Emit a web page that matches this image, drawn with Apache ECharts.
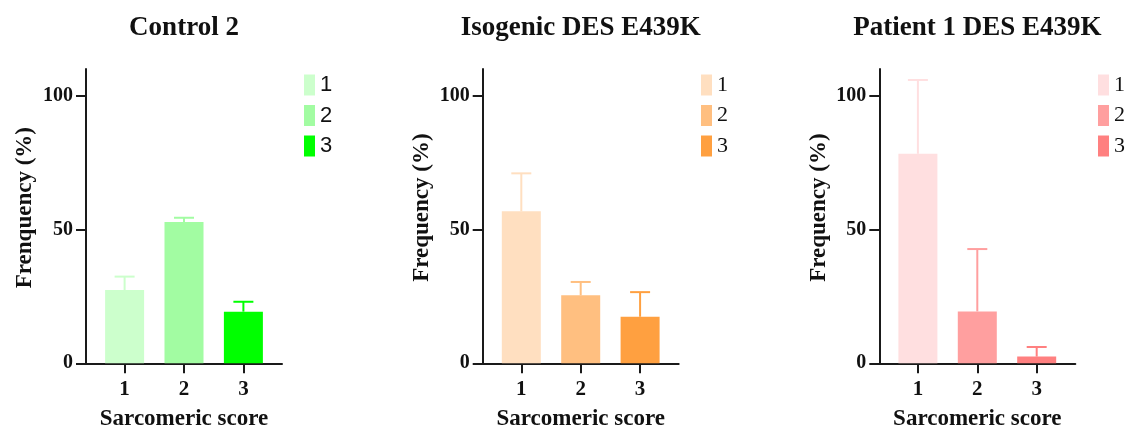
<!DOCTYPE html>
<html>
<head>
<meta charset="utf-8">
<script src="https://cdn.jsdelivr.net/npm/echarts@6/dist/echarts.min.js"></script>
<style>html,body{margin:0;padding:0;background:#fff;}#chart{width:1132px;height:430px;}</style>
</head>
<body>
<div id="chart"></div>
<script>
// ---- data ----
const scores = [1, 2, 3];
const scoreLabels = ['1', '2', '3'];
const yTicks = [0, 50, 100];
const panelTitles = ['Control 2', 'Isogenic DES E439K', 'Patient 1 DES E439K'];
const yAxisNames = ['Frenquency (%)', 'Frequency (%)', 'Frequency (%)'];
const xAxisName = 'Sarcomeric score';

const control2Mean = [27.4, 52.8, 19.3];
const control2Err = [5.0, 1.6, 3.7];
const isogenicMean = [56.8, 25.4, 17.4];
const isogenicErr = [14.2, 5.0, 9.2];
const patientMean = [78.3, 19.4, 2.5];
const patientErr = [27.6, 23.3, 3.6];

const control2Colors = ['#ccffcc', '#a2fca2', '#00ff00'];
const isogenicColors = ['#ffdfc0', '#ffbf80', '#ffa040'];
const patientColors = ['#ffdfe0', '#ff9f9f', '#ff8080'];

// ---- layout ----
const panels = [
  { key: 'A', mean: control2Mean, err: control2Err, colors: control2Colors, left: 86, legendLeft: 304, legendFont: 'Liberation Sans' },
  { key: 'B', mean: isogenicMean, err: isogenicErr, colors: isogenicColors, left: 482.7, legendLeft: 701, legendFont: 'Liberation Serif' },
  { key: 'C', mean: patientMean, err: patientErr, colors: patientColors, left: 879.3, legendLeft: 1098, legendFont: 'Liberation Serif' }
];
const GRID_W = 196;
const GRID_TOP = 69;
const GRID_H = 294.3;
const SERIF = 'Liberation Serif';
const AXIS_COLOR = '#1a1a1a';

const option = {
  animation: false,
  backgroundColor: '#fff',
  title: [], grid: [], xAxis: [], yAxis: [], legend: [], series: []
};

panels.forEach((p, i) => {
  option.title.push({
    text: panelTitles[i],
    left: p.left + GRID_W / 2,
    top: 15,
    padding: 0,
    textAlign: 'center',
    textStyle: { fontFamily: SERIF, fontWeight: 'bold', fontSize: 27, color: '#111' }
  });
  option.grid.push({ left: p.left, top: GRID_TOP, width: GRID_W, height: GRID_H, containLabel: false, outerBoundsMode: 'none' });
  option.xAxis.push({
    gridIndex: i,
    type: 'value',
    min: 0.35,
    max: 3.65,
    name: xAxisName,
    nameLocation: 'middle',
    nameGap: 44,
    nameTextStyle: { fontFamily: SERIF, fontWeight: 'bold', fontSize: 23, color: '#111' },
    splitLine: { show: false },
    axisLine: { show: true, onZero: false, lineStyle: { color: AXIS_COLOR, width: 2 } },
    axisTick: { show: true, length: 10, lineStyle: { color: AXIS_COLOR, width: 2 }, customValues: scores },
    axisLabel: {
      customValues: scores,
      formatter: v => scoreLabels[scores.indexOf(v)],
      margin: 16,
      fontFamily: SERIF, fontWeight: 'bold', fontSize: 21, color: '#111'
    }
  });
  option.yAxis.push({
    gridIndex: i,
    type: 'value',
    min: 0,
    max: 110,
    name: yAxisNames[i],
    nameLocation: 'middle',
    nameGap: 49,
    nameTextStyle: { fontFamily: SERIF, fontWeight: 'bold', fontSize: 23, color: '#111', padding: [0, 0, 0, 17] },
    splitLine: { show: false },
    axisLine: { show: true, lineStyle: { color: AXIS_COLOR, width: 2 } },
    axisTick: { show: true, length: 10, lineStyle: { color: AXIS_COLOR, width: 2 }, customValues: yTicks },
    axisLabel: {
      customValues: yTicks,
      margin: 13,
      fontFamily: SERIF, fontWeight: 'bold', fontSize: 20, color: '#111'
    }
  });
  const names = scores.map(s => p.key + '-' + s);
  option.legend.push({
    data: names,
    orient: 'vertical',
    left: p.legendLeft,
    top: 74,
    padding: 0,
    icon: 'rect',
    itemWidth: 11,
    itemHeight: 21,
    itemGap: 8.5,
    formatter: n => n.slice(n.indexOf('-') + 1),
    textStyle: { fontFamily: p.legendFont, fontSize: 22, color: '#111', lineHeight: 21 },
    selectedMode: false
  });
  scores.forEach((s, j) => {
    option.series.push({
      name: names[j],
      type: 'bar',
      xAxisIndex: i,
      yAxisIndex: i,
      barWidth: 39,
      barGap: '-100%',
      itemStyle: { color: p.colors[j] },
      data: [[s, p.mean[j]]],
      z: 2
    });
  });
  option.series.push({
    type: 'custom',
    xAxisIndex: i,
    yAxisIndex: i,
    z: 3,
    data: scores.map((s, j) => [s, p.mean[j], p.err[j], j]),
    renderItem: (params, api) => {
      const x = api.value(0), m = api.value(1), e = api.value(2), j = api.value(3);
      const base = api.coord([x, m]);
      const top = api.coord([x, m + e]);
      const col = p.colors[j];
      const style = { stroke: col, lineWidth: 2, fill: null };
      return {
        type: 'group',
        children: [
          { type: 'line', shape: { x1: base[0], y1: base[1], x2: top[0], y2: top[1] }, style },
          { type: 'line', shape: { x1: top[0] - 10, y1: top[1], x2: top[0] + 10, y2: top[1] }, style }
        ]
      };
    }
  });
});

const chart = echarts.init(document.getElementById('chart'), null, { renderer: 'canvas' });
chart.setOption(option);
</script>
</body>
</html>
